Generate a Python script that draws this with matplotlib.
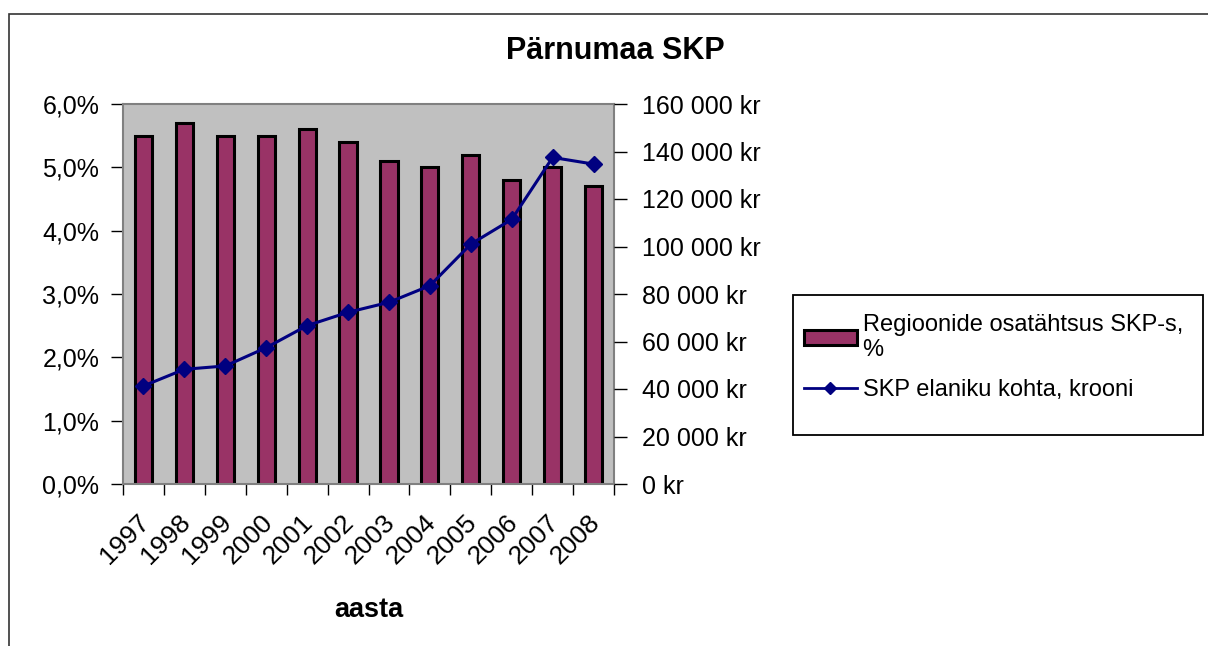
import matplotlib
matplotlib.use("Agg")
import matplotlib.pyplot as plt
from matplotlib.ticker import FuncFormatter, MultipleLocator
from matplotlib.patches import Rectangle
from matplotlib.lines import Line2D
from matplotlib.transforms import ScaledTranslation
import numpy as np

years = ["1997", "1998", "1999", "2000", "2001", "2002", "2003", "2004", "2005", "2006", "2007", "2008"]
share_pct = [5.5, 5.7, 5.5, 5.5, 5.6, 5.4, 5.1, 5.0, 5.2, 4.8, 5.0, 4.7]
gdp_per_capita = [41300, 48300, 49700, 57400, 66700, 72300, 76500, 83500, 101000, 111400, 137500, 134700]

title = "Pärnumaa SKP"
xlabel = "aasta"
label_bar = "Regioonide osatähtsus SKP-s,\n%"
label_line = "SKP elaniku kohta, krooni"

plt.rcParams['font.family'] = ['Liberation Sans', 'DejaVu Sans']

W, H = 1208, 646
fig = plt.figure(figsize=(W/100, H/100), dpi=100)

def fx(px):
    return px / W

def fy(py):
    return 1 - py / H

# outer chart frame (only top/left visible in the reference)
fig.patches.append(Rectangle((fx(9), -0.1), 1.2, fy(14) + 0.1, transform=fig.transFigure,
                             fill=False, edgecolor='#333333', linewidth=1.2))

ax = fig.add_axes([fx(123), fy(484), fx(614) - fx(123), fy(104) - fy(484)])
ax.set_facecolor('#C0C0C0')
x = np.arange(len(years))
bars = ax.bar(x, share_pct, width=0.42, color='#993366', edgecolor='black', linewidth=2.2,
              label=label_bar, zorder=2)
ax.set_xlim(-0.5, len(years) - 0.5)
ax.set_ylim(0, 6)
ax.yaxis.set_major_locator(MultipleLocator(1))
ax.yaxis.set_major_formatter(FuncFormatter(lambda v, p: f"{v:.1f}".replace('.', ',') + "%"))
ax.set_xticks(x)
ax.set_xticklabels(years, rotation=45, ha='right', rotation_mode='anchor', fontsize=19)
ax.tick_params(axis='x', length=0, pad=19)
offset = ScaledTranslation(-6/100, 0, fig.dpi_scale_trans)
for lab in ax.get_xticklabels():
    lab.set_transform(lab.get_transform() + offset)
ax.set_xticks(np.arange(-0.5, len(years)), minor=True)
ax.tick_params(axis='x', which='minor', length=8, width=1, direction='out')
ax.tick_params(axis='y', labelsize=18, length=9, width=1, direction='out', pad=8)
for s in ['top', 'left', 'right', 'bottom']:
    ax.spines[s].set_color('#808080')
    ax.spines[s].set_linewidth(1.5)
ax.set_xlabel(xlabel, fontsize=19.5, fontweight='bold', labelpad=20)

ax2 = ax.twinx()
line, = ax2.plot(x, gdp_per_capita, color='#000080', linewidth=2.2, marker='D', markersize=8.5,
                 label=label_line, zorder=3)
ax2.set_ylim(0, 160000)
ax2.yaxis.set_major_locator(MultipleLocator(20000))
def kr(v, p):
    v = int(round(v))
    if v == 0:
        return "0 kr"
    return f"{v:,}".replace(',', ' ') + " kr"
ax2.yaxis.set_major_formatter(FuncFormatter(kr))
ax2.tick_params(axis='y', labelsize=18, length=9, width=1, direction='out', pad=11)
for s in ax2.spines.values():
    s.set_visible(False)

fig.text(fx(615), fy(51), title, ha='center', va='center', fontsize=22, fontweight='bold')

# legend frame
fig.patches.append(Rectangle((fx(793), fy(435)), fx(1203) - fx(793), fy(295) - fy(435),
                             transform=fig.transFigure, fill=False, edgecolor='black',
                             linewidth=1.3))
leg = fig.legend([bars, Line2D([], [], color='#000080', linewidth=2, marker='D', markersize=6)],
                 [label_bar, label_line], loc='upper left',
                 bbox_to_anchor=(fx(787), fy(297)), fontsize=17, frameon=False,
                 handlelength=2.25, handleheight=0.6, handletextpad=0.25,
                 borderpad=0.2, labelspacing=0.75)

fig.savefig("out.png", dpi=100)
